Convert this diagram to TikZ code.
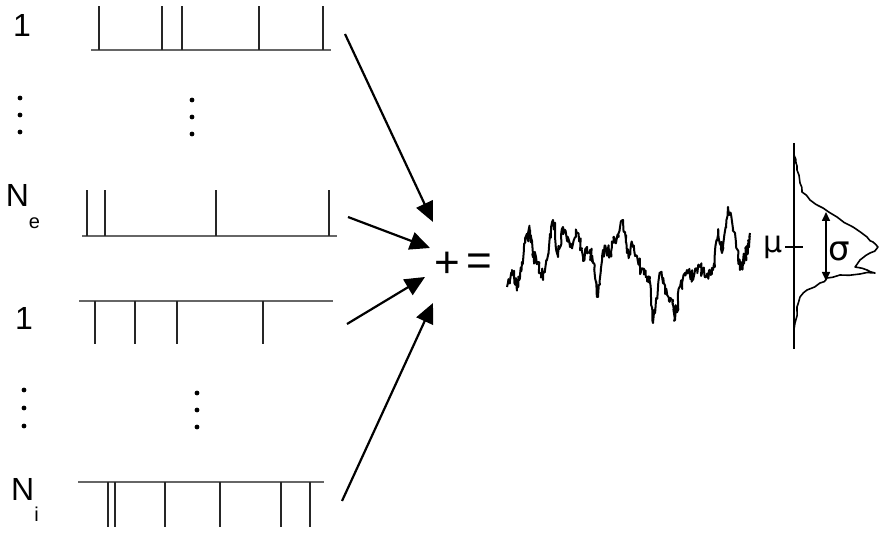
\documentclass[tikz,border=0pt]{standalone}
\usepackage{fontspec}
\setmainfont{Liberation Sans}
\newfontfamily\symfont{DejaVu Sans}
\usetikzlibrary{arrows.meta}
\newcommand{\sub}[1]{\raisebox{-1.3ex}{\fontsize{10}{10}\selectfont #1}}

\begin{document}
\begin{tikzpicture}[x=0.5pt,y=-0.5pt,font=\fontsize{16}{18}\selectfont]
  \tikzset{base/.style={draw=black!60,line width=0.6pt},
    spike/.style={draw=black!85,line width=1pt},
    feed/.style={-{Triangle[length=10pt,width=9pt]},line width=1.1pt},
    trace/.style={line width=0.8pt,line join=round},
    lbl/.style={inner sep=0pt}}
  \useasboundingbox (0,0) rectangle (879,533);
  % excitatory trains
  \node[lbl] (e1) at (22,25) {1};
  \draw[base] (91,50) -- (331,50);
  \foreach \s in {99,162,182,259,323} \draw[spike] (\s,50) -- (\s,6);
  \foreach \y in {98,115,132} \fill (20,\y) circle (1.2pt);
  \foreach \y in {100,117,134} \fill (192,\y) circle (1.2pt);
  \node[lbl] (ene) at (23,207) {N\sub{e}};
  \draw[base] (82,236) -- (337,236);
  \foreach \s in {87,105,216,329} \draw[spike] (\s,236) -- (\s,190);
  % inhibitory trains
  \node[lbl] (i1) at (24,318) {1};
  \draw[base] (79,301) -- (333,301);
  \foreach \s in {95,135,177,263} \draw[spike] (\s,301) -- (\s,344);
  \foreach \y in {390,408,426} \fill (24,\y) circle (1.2pt);
  \foreach \y in {393,410,427} \fill (197,\y) circle (1.2pt);
  \node[lbl] (ini) at (25,500) {N\sub{i}};
  \draw[base] (78,482) -- (324,482);
  \foreach \s in {108,115,165,220,281,310} \draw[spike] (\s,482) -- (\s,527);
  % summation
  \node[lbl,font=\fontsize{22}{24}\selectfont] (plus) at (447,265) {+};
  \node[lbl,font=\fontsize{22}{24}\selectfont] (eq) at (479,265) {=};
  \coordinate (t1) at (345,34);  \coordinate (h1) at (433,222);
  \coordinate (t2) at (348,217); \coordinate (h2) at (430,248);
  \coordinate (t3) at (347,324); \coordinate (h3) at (425,277);
  \coordinate (t4) at (342,501); \coordinate (h4) at (433,303);
  \foreach \k in {1,...,4} \draw[feed] (t\k) -- (h\k);
  % membrane potential trace
  \pgfmathsetseed{11}
  \draw[trace,line width=1pt] (507,287)
    \foreach \x/\y [remember=\x as \lx (initially 507), remember=\y as \ly (initially 287)] in
      {512/270,517/288,522/262,527/237,530/230,533/257,538/262,543/280,547/260,
       553/220,558/257,563/227,570/247,577/233,583/257,590/250,593/263,598/297,
       603/250,610/253,615/240,623/220,627/253,633/247,640/267,647/277,650/277,
       653/323,660/273,665/290,672/300,675/320,680/287,687/270,693/277,700/267,
       707/277,713/270,718/230,722/253,728/207,735/233,740/270,745/257,748/250,750/233}
    { \foreach \k in {1,...,7} { -- ({\lx+(\x-\lx)*\k/8+0.8*rand},{\ly+(\y-\ly)*\k/8+7*rand}) } -- (\x,\y) };
  % histogram
  \draw[line width=0.8pt] (794,143) coordinate (atop) -- (794,349) coordinate (abot);
  \draw[line width=0.8pt] (785,247) coordinate (mul) -- (803,247) coordinate (mur);
  \node[lbl,anchor=east,font=\fontsize{15}{16}\symfont] (mu) at ([xshift=-1pt]mul) {μ};
  \draw[trace] (794,155)
    \foreach \x/\y [remember=\x as \lx (initially 794), remember=\y as \ly (initially 155)] in
      {796/163,797/170,800/183,802/192,810/200,823/208,837/217,853/227,867/237,
       873/242,878/247,870/253,860/260,855/267,867/270,875/273,860/274,840/275,
       827/278,820/283,807/290,800/297,797/307,795/323,794/335}
    { -- ({(\lx+\x)/2+1.2*rand},{(\ly+\y)/2+1.2*rand}) -- (\x,\y) };
  \coordinate (stop) at (826,212); \coordinate (sbot) at (826,281);
  \draw[{Triangle[length=4.5pt,width=4pt]}-{Triangle[length=4.5pt,width=4pt]},line width=0.8pt] (stop) -- (sbot);
  \node[lbl,font=\fontsize{17}{18}\symfont] (sigma) at (839,251) {σ};
\end{tikzpicture}
\end{document}
